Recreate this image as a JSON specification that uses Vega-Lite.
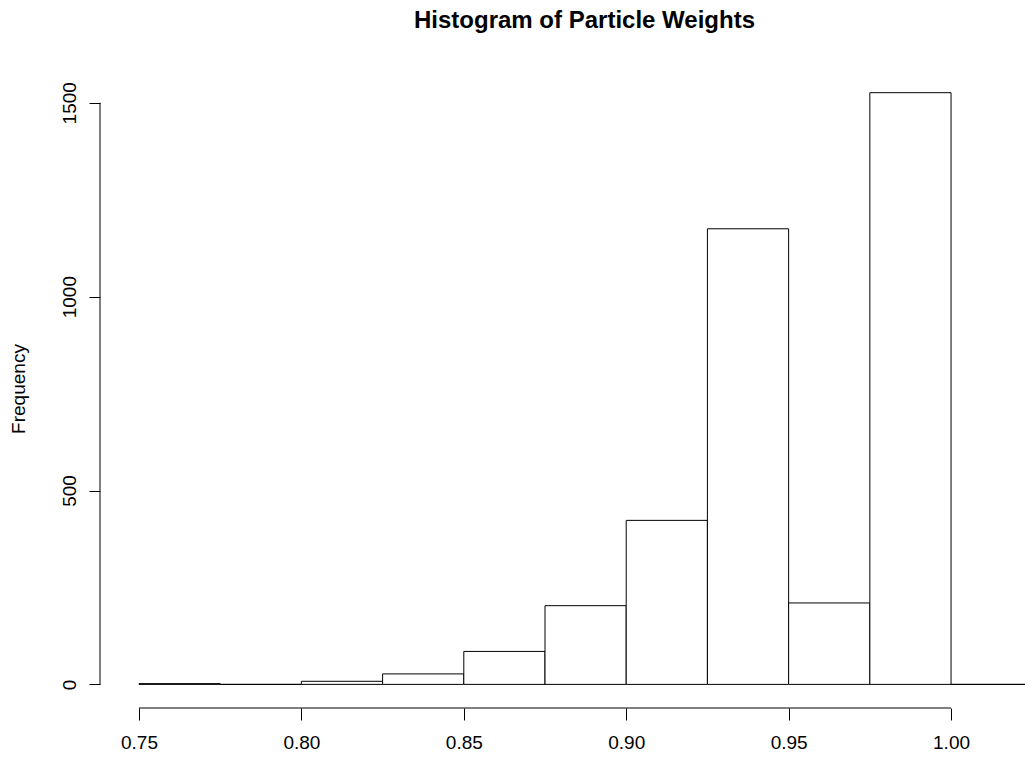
{
  "$schema": "https://vega.github.io/schema/vega-lite/v6.json",
  "width": 925,
  "height": 639,
  "autosize": {"type": "none"},
  "padding": {"left": 100, "top": 69, "right": 0, "bottom": 49},
  "background": "white",
  "config": {
    "view": {"stroke": null},
    "font": "Liberation Sans"
  },
  "title": {
    "text": "Histogram of Particle Weights",
    "font": "Liberation Sans",
    "fontSize": 24,
    "fontWeight": "bold",
    "color": "black",
    "anchor": "middle",
    "dx": 22,
    "offset": 36
  },
  "datasets": {
    "bins": [
      {"bin_start": 0.750, "bin_end": 0.775, "count": 2},
      {"bin_start": 0.775, "bin_end": 0.800, "count": 0},
      {"bin_start": 0.800, "bin_end": 0.825, "count": 8},
      {"bin_start": 0.825, "bin_end": 0.850, "count": 27},
      {"bin_start": 0.850, "bin_end": 0.875, "count": 85},
      {"bin_start": 0.875, "bin_end": 0.900, "count": 203},
      {"bin_start": 0.900, "bin_end": 0.925, "count": 423},
      {"bin_start": 0.925, "bin_end": 0.950, "count": 1175},
      {"bin_start": 0.950, "bin_end": 0.975, "count": 210},
      {"bin_start": 0.975, "bin_end": 1.000, "count": 1526},
      {"bin_start": 1.000, "bin_end": 1.025, "count": 0},
      {"bin_start": 1.025, "bin_end": 1.050, "count": 0}
    ],
    "xaxis": [{"from": 0.75, "to": 1.0, "ybase": -60.9}],
    "yaxis": [{"x": 0.738, "from": 0, "to": 1500}]
  },
  "layer": [
    {
      "data": {"name": "bins"},
      "mark": {"type": "rect", "fill": "white", "stroke": "black", "strokeWidth": 1, "clip": true},
      "encoding": {
        "x": {
          "field": "bin_start", "type": "quantitative",
          "scale": {"domain": [0.738, 1.02277], "nice": false, "zero": false},
          "axis": {
            "title": null,
            "domain": false,
            "grid": false,
            "values": [0.75, 0.8, 0.85, 0.9, 0.95, 1.0],
            "format": ".2f",
            "tickSize": 12,
            "tickColor": "black",
            "tickWidth": 1,
            "labelFontSize": 19,
            "labelColor": "black",
            "labelPadding": 13,
            "labelFlush": false
          }
        },
        "x2": {"field": "bin_end"},
        "y": {
          "field": "count", "type": "quantitative",
          "scale": {"domain": [-60.9, 1587.1], "nice": false, "zero": false},
          "axis": {
            "title": "Frequency",
            "titleFontSize": 19,
            "titleFontWeight": "normal",
            "titleColor": "black",
            "titleAngle": 270,
            "titleAlign": "center",
            "titleBaseline": "middle",
            "titleX": -82,
            "titleY": 319.5,
            "domain": false,
            "grid": false,
            "values": [0, 500, 1000, 1500],
            "format": "d",
            "tickSize": 11,
            "tickColor": "black",
            "tickWidth": 1,
            "labelFontSize": 19,
            "labelColor": "black",
            "labelAngle": 270,
            "labelAlign": "center",
            "labelBaseline": "bottom",
            "labelPadding": 10,
            "labelFlush": false
          }
        },
        "y2": {"datum": 0}
      }
    },
    {
      "data": {"name": "xaxis"},
      "mark": {"type": "rule", "color": "black", "strokeWidth": 1},
      "encoding": {
        "x": {"field": "from", "type": "quantitative"},
        "x2": {"field": "to"},
        "y": {"field": "ybase", "type": "quantitative"}
      }
    },
    {
      "data": {"name": "yaxis"},
      "mark": {"type": "rule", "color": "black", "strokeWidth": 1},
      "encoding": {
        "x": {"field": "x", "type": "quantitative"},
        "y": {"field": "from", "type": "quantitative"},
        "y2": {"field": "to"}
      }
    }
  ]
}
